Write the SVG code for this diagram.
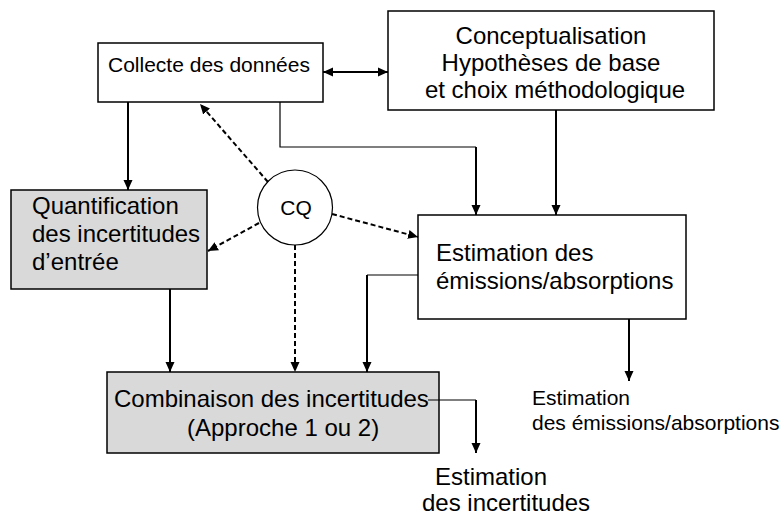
<svg xmlns="http://www.w3.org/2000/svg" width="784" height="515" viewBox="0 0 784 515">
<style>
  .box { fill: #ffffff; stroke: #000; stroke-width: 1.5; }
  .gray { fill: #d9d9d9; stroke: #000; stroke-width: 1.5; }
  .t { font-family: "Liberation Sans", Arial, sans-serif; fill: #000; }
  .t24 { font-size: 24px; }
  .t21 { font-size: 21px; }
  .c { fill: none; stroke: #000; stroke-width: 2; }
  .thin { fill: none; stroke: #000; stroke-width: 1.2; }
  .d { fill: none; stroke: #000; stroke-width: 2; stroke-dasharray: 5 3; }
</style>
<defs>
  <marker id="ah" markerUnits="userSpaceOnUse" markerWidth="10" markerHeight="10" refX="10" refY="5" orient="auto-start-reverse">
    <path d="M0,0.5 L10,5 L0,9.5 z" fill="#000"/>
  </marker>
</defs>
<rect width="784" height="515" fill="#fff"/>

<g id="collecte">
  <rect class="box" x="98" y="43" width="225" height="59"/>
  <text class="t t21" x="108" y="72">Collecte des données</text>
</g>
<g id="conceptualisation">
  <rect class="box" x="388" y="11" width="326" height="99"/>
  <text class="t t24" x="551" y="44" text-anchor="middle">Conceptualisation</text>
  <text class="t t24" x="551" y="71" text-anchor="middle">Hypothèses de base</text>
  <text class="t t24" x="555" y="98" text-anchor="middle">et choix méthodologique</text>
</g>
<g id="quantification">
  <rect class="gray" x="11" y="190" width="196" height="99"/>
  <text class="t t24" x="32" y="214">Quantification</text>
  <text class="t t24" x="32" y="242">des incertitudes</text>
  <text class="t t24" x="32" y="270">d’entrée</text>
</g>
<g id="cq">
  <circle cx="295" cy="207.5" r="37.5" fill="#fff" stroke="#000" stroke-width="1.2"/>
  <text class="t t21" x="296" y="215" text-anchor="middle">CQ</text>
</g>
<g id="estimation">
  <rect class="box" x="418" y="215" width="268" height="104"/>
  <text class="t t24" x="436" y="261">Estimation des</text>
  <text class="t t24" x="436" y="289">émissions/absorptions</text>
</g>
<g id="combinaison">
  <rect class="gray" x="107" y="372" width="332" height="81"/>
  <text class="t t24" x="114" y="407">Combinaison des incertitudes</text>
  <text class="t t24" x="187" y="436">(Approche 1 ou 2)</text>
</g>
<g id="sortie-emissions">
  <text class="t t21" x="532" y="405">Estimation</text>
  <text class="t t21" x="532" y="430">des émissions/absorptions</text>
</g>
<g id="sortie-incertitudes">
  <text class="t t24" x="435" y="485">Estimation</text>
  <text class="t t24" x="422" y="511">des incertitudes</text>
</g>

<g id="connectors">
  <line class="c" x1="323" y1="72" x2="388" y2="72" marker-start="url(#ah)" marker-end="url(#ah)"/>
  <path class="c" d="M128,102 V190" marker-end="url(#ah)"/>
  <path class="thin" d="M280,102 V147 H476"/>
  <path class="c" d="M476,147 V215" marker-end="url(#ah)"/>
  <path class="c" d="M556,110 V215" marker-end="url(#ah)"/>
  <path class="c" d="M170,289 V372" marker-end="url(#ah)"/>
  <path class="thin" d="M418,275 H367"/>
  <path class="c" d="M367,275 V372" marker-end="url(#ah)"/>
  <path class="c" d="M629,319 V381" marker-end="url(#ah)"/>
  <path class="thin" d="M428,400 H476"/>
  <path class="c" d="M476,400 V453" marker-end="url(#ah)"/>
  <path class="d" d="M268,182 L200,104" marker-end="url(#ah)"/>
  <path class="d" d="M259,223 L208,251" marker-end="url(#ah)"/>
  <path class="d" d="M332,214 L418,237" marker-end="url(#ah)"/>
  <path class="d" d="M295,245 V372" marker-end="url(#ah)"/>
</g>
</svg>
